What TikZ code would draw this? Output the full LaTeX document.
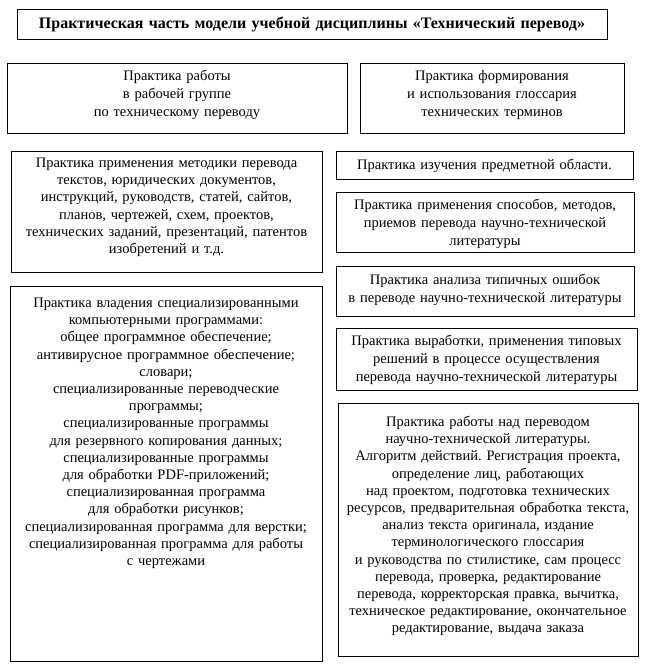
\documentclass[tikz,border=0pt]{standalone}
\usepackage{fontspec}
\setmainfont{Liberation Serif}
\frenchspacing
\begin{document}
\begin{tikzpicture}[x=1pt,y=-1pt,
  box/.style={draw=black,line width=0.9pt,inner sep=0pt,anchor=north west},
  txt/.style={inner sep=0pt,anchor=base,align=center,font=\fontsize{14.5}{17.2}\selectfont},
  txtb/.style={txt,font=\fontsize{14.5}{18}\selectfont}]
\useasboundingbox (0,0) rectangle (645,667);
% boxes
\node[box,minimum width=590pt,minimum height=30pt] (title) at (17,9) {};
\node[box,minimum width=340pt,minimum height=70pt] (bwork) at (7,63) {};
\node[box,minimum width=264pt,minimum height=70pt] (bgloss) at (360,63) {};
\node[box,minimum width=311pt,minimum height=121pt] (bmeth) at (11,151) {};
\node[box,minimum width=312pt,minimum height=375pt] (bsoft) at (10,286) {};
\node[box,minimum width=297pt,minimum height=28pt] (bsubj) at (336,151) {};
\node[box,minimum width=298pt,minimum height=60pt] (bways) at (336,192) {};
\node[box,minimum width=298pt,minimum height=50pt] (berr) at (336,266) {};
\node[box,minimum width=301pt,minimum height=62pt] (bsol) at (336,328) {};
\node[box,minimum width=300pt,minimum height=253pt] (balg) at (338,403) {};
% texts
\node[txt,text width=585pt,font=\bfseries\fontsize{16}{18}\selectfont] (ttitle) at (312,28) {Практическая часть модели учебной дисциплины «Технический перевод»};
\node[txtb,text width=335pt] (twork) at (177,80) {Практика работы\\в рабочей группе\\по техническому переводу};
\node[txtb,text width=262pt] (tgloss) at (492,80) {Практика формирования\\и использования глоссария\\технических терминов};
\node[txt,text width=310pt] (tmeth) at (166.5,167.5) {Практика применения методики перевода\\текстов, юридических документов,\\инструкций, руководств, статей, сайтов,\\планов, чертежей, схем, проектов,\\технических заданий, презентаций, патентов\\изобретений и т.д.};
\node[txt,text width=310pt] (tsoft) at (166,307.5) {Практика владения специализированными\\компьютерными программами:\\общее программное обеспечение;\\антивирусное программное обеспечение;\\словари;\\специализированные переводческие\\программы;\\специализированные программы\\для резервного копирования данных;\\специализированные программы\\для обработки PDF-приложений;\\специализированная программа\\для обработки рисунков;\\специализированная программа для верстки;\\специализированная программа для работы\\с чертежами};
\node[txtb,text width=296pt] (tsubj) at (484.5,169.5) {Практика изучения предметной области.};
\node[txtb,text width=296pt] (tways) at (485,209.5) {Практика применения способов, методов,\\приемов перевода научно-технической\\литературы};
\node[txtb,text width=296pt] (terr) at (485,284.5) {Практика анализа типичных ошибок\\в переводе научно-технической литературы};
\node[txtb,text width=300pt] (tsol) at (486.5,345.5) {Практика выработки, применения типовых\\решений в процессе осуществления\\перевода научно-технической литературы};
\node[txt,text width=300pt] (talg) at (488,426.5) {Практика работы над переводом\\научно-технической литературы.\\Алгоритм действий. Регистрация проекта,\\определение лиц, работающих\\над проектом, подготовка технических\\ресурсов, предварительная обработка текста,\\анализ текста оригинала, издание\\терминологического глоссария\\и руководства по стилистике, сам процесс\\перевода, проверка, редактирование\\перевода, корректорская правка, вычитка,\\техническое редактирование, окончательное\\редактирование, выдача заказа};
\end{tikzpicture}
\end{document}
